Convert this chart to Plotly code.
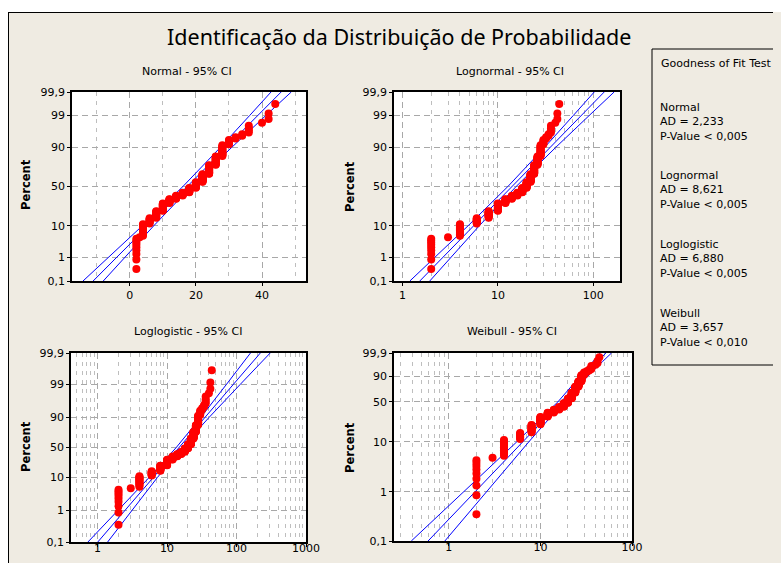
import math
from statistics import NormalDist
import plotly.graph_objects as go

# ---------------- data ----------------
obs_values = [2, 3, 4, 6, 8, 10, 12, 14, 16, 18, 20, 22, 24, 26, 28, 30, 32, 34, 36, 40, 42, 44]
obs_counts = [9, 1, 12, 8, 12, 16, 10, 8, 8, 12, 15, 20, 20, 16, 15, 5, 2, 2, 4, 1, 2, 1]

# fitted line and 95% CI (x value at these percents)
fit_percents = [0.1, 1, 10, 50, 90, 99, 99.9]

normal_lower = [-14.14, -6.50, 3.84, 16.07, 27.42, 36.30, 42.72]
normal_fit = [-11.08, -4.05, 5.56, 17.35, 29.14, 38.75, 45.78]
normal_upper = [-8.02, -1.60, 7.28, 18.63, 30.86, 41.20, 48.84]

lognormal_lower = [1.195, 2.173, 4.882, 12.72, 30.91, 61.9, 102.3]
lognormal_fit = [1.519, 2.633, 5.587, 14.06, 35.38, 75.0, 130.1]
lognormal_upper = [1.931, 3.19, 6.392, 15.53, 40.47, 90.9, 165.3]

loglogistic_lower = [0.726, 1.974, 5.51, 13.55, 30.58, 71.1, 158.8]
loglogistic_fit = [1.006, 2.479, 6.315, 14.88, 35.06, 89.3, 220.1]
loglogistic_upper = [1.394, 3.114, 7.24, 16.34, 40.19, 112.2, 305.0]

weibull_lower = [0.389, 1.45, 5.50, 15.50, 27.40, 37.35, 44.94]
weibull_fit = [0.593, 1.93, 6.40, 16.75, 30.00, 42.19, 51.80]
weibull_upper = [0.904, 2.56, 7.45, 18.05, 32.80, 47.63, 59.71]

percent_ticks = [0.1, 1, 10, 50, 90, 99, 99.9]
percent_ticks_weibull = [0.1, 1, 10, 50, 90, 99.9]
percent_ticktext = ["0,1", "1", "10", "50", "90", "99", "99,9"]
percent_ticktext_weibull = ["0,1", "1", "10", "50", "90", "99,9"]

panel_titles = ["Normal - 95% CI", "Lognormal - 95% CI", "Loglogistic - 95% CI", "Weibull - 95% CI"]
main_title = "Identificação da Distribuição de Probabilidade"
gof_title = "Goodness of Fit Test"
gof_names = ["Normal", "Lognormal", "Loglogistic", "Weibull"]
gof_ad = ["2,233", "8,621", "6,880", "3,657"]
gof_p = ["< 0,005", "< 0,005", "< 0,005", "< 0,010"]

# ---------------- probability scales ----------------
ND = NormalDist()


def t_normal(pct):
    return ND.inv_cdf(pct / 100.0)


def t_logit(pct):
    p = pct / 100.0
    return math.log(p / (1 - p))


def t_weibull(pct):
    p = pct / 100.0
    return math.log(-math.log(1 - p))


# plotting positions (median ranks)
obs = []
for v, c in zip(obs_values, obs_counts):
    obs += [v] * c
n = len(obs)
ranks_pct = [100.0 * (i - 0.3) / (n + 0.4) for i in range(1, n + 1)]

# the page body keeps its default 8px margin -> figure sits at (8, 8) in the window
OX, OY = 8, 8
W, H = 781 - OX, 563 - 2 * OY


def px(x):
    return (x - OX) / W


def py(y):
    return 1 - (y - OY) / H


BG = "#EFEBE2"
GRID = "#A8A8A8"
FONT = "DejaVu Sans"
TFONT = "Noto Sans"

panels = [
    dict(tf=t_normal, lo=normal_lower, fit=normal_fit, up=normal_upper, box=(72, 306, 92, 281),
         xtype="linear", xrange=[-17.47, 53.3], xt=[0, 20, 40], xtt=["0", "20", "40"],
         xminor=[-10, 10, 30, 50], yt=percent_ticks, ytt=percent_ticktext, stand=0),
    dict(tf=t_normal, lo=lognormal_lower, fit=lognormal_fit, up=lognormal_upper, box=(394, 620, 92, 281),
         xtype="log", xrange=[-0.089, 2.28], xt=[1, 10, 100], xtt=["1", "10", "100"],
         xminor=[2, 3, 4, 5, 6, 7, 8, 9, 20, 30, 40, 50, 60, 70, 80, 90, 200, 300],
         yt=percent_ticks, ytt=percent_ticktext, stand=0),
    dict(tf=t_logit, lo=loglogistic_lower, fit=loglogistic_fit, up=loglogistic_upper, box=(71, 306, 353, 542),
         xtype="log", xrange=[-0.383, 3.0], xt=[1, 10, 100, 1000], xtt=["1", "10", "100", "1000"],
         xminor=[0.5, 0.6, 0.7, 0.8, 0.9, 2, 3, 4, 5, 6, 7, 8, 9, 20, 30, 40, 50, 60, 70, 80, 90,
                 200, 300, 400, 500, 600, 700, 800, 900],
         yt=percent_ticks, ytt=percent_ticktext, stand=-8),
    dict(tf=t_weibull, lo=weibull_lower, fit=weibull_fit, up=weibull_upper, box=(394, 632, 353, 541),
         xtype="log", xrange=[-0.599, 2.0], xt=[1, 10, 100], xtt=["1", "10", "100"],
         xminor=[0.3, 0.4, 0.5, 0.6, 0.7, 0.8, 0.9, 2, 3, 4, 5, 6, 7, 8, 9, 20, 30, 40, 50, 60, 70, 80, 90],
         yt=percent_ticks_weibull, ytt=percent_ticktext_weibull, stand=-8),
]

fig = go.Figure()
layout = dict(width=W, height=H, autosize=False, margin=dict(l=0, r=0, t=0, b=0, autoexpand=False),
              paper_bgcolor=BG, plot_bgcolor="white", showlegend=False,
              font=dict(family=FONT, size=11, color="black"))

for k, pn in enumerate(panels, start=1):
    xa = "x" if k == 1 else f"x{k}"
    ya = "y" if k == 1 else f"y{k}"
    tf = pn["tf"]
    yfit = [tf(p) for p in fit_percents]
    for arr in (pn["lo"], pn["fit"], pn["up"]):
        fig.add_trace(go.Scatter(x=arr, y=yfit, mode="lines", line=dict(color="#0000FF", width=1),
                                 xaxis=xa, yaxis=ya, hoverinfo="skip"))
    fig.add_trace(go.Scatter(x=obs, y=[tf(p) for p in ranks_pct], mode="markers",
                             marker=dict(color="#FF0000", size=8, line=dict(width=0)),
                             xaxis=xa, yaxis=ya))
    x0, x1, y0, y1 = pn["box"]
    xkey = "xaxis" if k == 1 else f"xaxis{k}"
    ykey = "yaxis" if k == 1 else f"yaxis{k}"
    layout[xkey] = dict(domain=[px(x0), px(x1)], anchor=ya, type=pn["xtype"], range=pn["xrange"],
                        tickmode="array", tickvals=pn["xt"], ticktext=pn["xtt"], automargin=False,
                        ticklabelstandoff=pn["stand"],
                        showgrid=True, gridcolor=GRID, griddash="6px,4px", gridwidth=1,
                        minor=dict(tickmode="array", tickvals=pn["xminor"], showgrid=True,
                                   gridcolor="#BEBEBE", griddash="4px,5px", gridwidth=1, ticks=""),
                        showline=True, linecolor="black", linewidth=1.5, mirror=True,
                        ticks="outside", ticklen=3, tickcolor="black", zeroline=False,
                        tickfont=dict(size=11, family=FONT))
    ytv = [tf(p) for p in pn["yt"]]
    layout[ykey] = dict(domain=[py(y1), py(y0)], anchor=xa, range=[ytv[0], ytv[-1]],
                        tickmode="array", tickvals=ytv, ticktext=pn["ytt"], automargin=False,
                        showgrid=True, gridcolor=GRID, griddash="6px,4px", gridwidth=1,
                        showline=True, linecolor="black", linewidth=1.5, mirror=True,
                        ticks="outside", ticklen=3, tickcolor="black", zeroline=False,
                        tickfont=dict(size=11, family=FONT))

ann = []
ann.append(dict(text=main_title, x=px(399), y=py(37), xref="paper", yref="paper", showarrow=False,
                font=dict(size=21.5, family=TFONT, color="black"), xanchor="center", yanchor="middle"))
for t, (cx, cy) in zip(panel_titles, [(187, 72), (510, 72), (188, 331), (512, 331)]):
    ann.append(dict(text=t, x=px(cx), y=py(cy), xref="paper", yref="paper", showarrow=False,
                    font=dict(size=11, family=FONT, color="black"), xanchor="center", yanchor="middle"))
for (cx, cy) in [(26, 185), (350, 187), (26, 447), (350, 448)]:
    ann.append(dict(text="<b>Percent</b>", x=px(cx), y=py(cy), xref="paper", yref="paper", showarrow=False,
                    textangle=-90, font=dict(size=11.5, family=FONT, color="black"),
                    xanchor="center", yanchor="middle"))
ann.append(dict(text=gof_title, x=px(659), y=py(63), xref="paper", yref="paper", showarrow=False,
                font=dict(size=11, family=FONT, color="black"), xanchor="left", yanchor="middle"))
for g, (nm, ad, pv) in enumerate(zip(gof_names, gof_ad, gof_p)):
    txt = f"{nm}<br>AD = {ad}<br>P-Value {pv.replace('<', '&lt;')}"
    ann.append(dict(text=txt, x=px(659), y=py([122, 190, 259, 328][g]), xref="paper", yref="paper",
                    showarrow=False, align="left", font=dict(size=11, family=FONT, color="black"),
                    xanchor="left", yanchor="middle", borderpad=0))
layout["annotations"] = ann

shapes = [
    # white strip above the frame, frame lines
    dict(type="rect", xref="paper", yref="paper", x0=0, x1=1, y0=py(12), y1=1, fillcolor="white",
         line=dict(width=0), layer="below"),
    dict(type="line", xref="paper", yref="paper", x0=px(8), x1=1, y0=py(12.5), y1=py(12.5),
         line=dict(color="black", width=1)),
    dict(type="line", xref="paper", yref="paper", x0=px(8.5), x1=px(8.5), y0=0, y1=py(12),
         line=dict(color="black", width=1)),
    # goodness-of-fit box
    dict(type="rect", xref="paper", yref="paper", x0=px(652), x1=px(800), y0=py(365), y1=py(49),
         line=dict(color="black", width=1), fillcolor="rgba(0,0,0,0)"),
]
layout["shapes"] = shapes

fig.update_layout(**layout)

# colour the page margins like the original window (white top/left strip, frame line, beige bottom)
post = ("document.documentElement.style.background="
        "'linear-gradient(to bottom,#fff 0px,#fff 12px,rgba(255,255,255,0) 12px),"
        "linear-gradient(to right,#fff 0px,#fff 8px,#000 8px,#000 9px,rgba(0,0,0,0) 9px),"
        + BG + "';")
fig.write_html("out.html", config={"displayModeBar": False}, post_script=post)
